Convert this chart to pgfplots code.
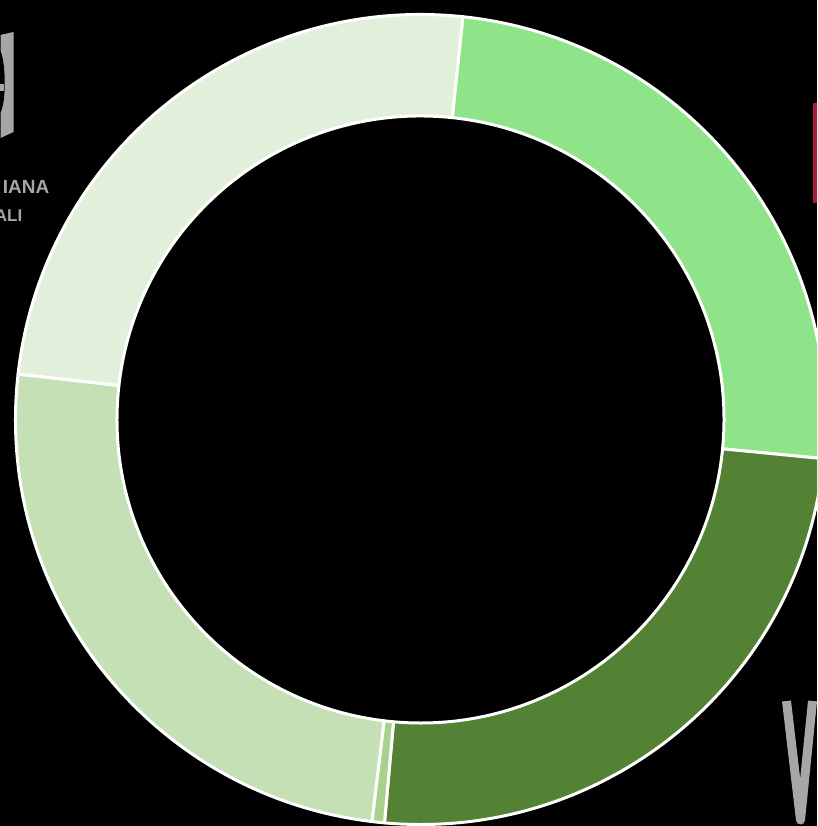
\documentclass[border=0pt]{standalone}
\usepackage{pgfplots}
\usepackage{pgfplotstable}
\pgfplotsset{compat=1.18}
\usepackage{fontspec}
\setmainfont{Liberation Sans}

\definecolor{s0}{HTML}{8FE48A}
\definecolor{s1}{HTML}{548235}
\definecolor{s2}{HTML}{A9D18E}
\definecolor{s3}{HTML}{C5E0B4}
\definecolor{s4}{HTML}{E2EFDA}
\definecolor{logogray}{HTML}{A6A6A6}
\definecolor{logored}{HTML}{A51D3B}

% slices, clockwise from the top
\pgfplotstableread{
slice value
0 25
1 25
2 0.5
3 25
4 25
}\slices

\begin{document}
\begin{tikzpicture}
\def\total{0}
\pgfplotsforeachungrouped \i in {0,...,4}{%
  \pgfplotstablegetelem{\i}{value}\of\slices
  \pgfmathsetmacro\total{\total+\pgfplotsretval}}
\def\angA{84}
\begin{axis}[
    hide axis,
    scale only axis,
    x=1pt, y=1pt,
    xmin=-420.5, xmax=396.5,
    ymin=-406.5, ymax=419.5,
    clip=true,
]
\fill[black] (rel axis cs:0,0) rectangle (rel axis cs:1,1);

% background bits of the slide
\fill[logogray] (-420,384.5) -- (-407,387.5) -- (-407,287.5) -- (-420,281.5) -- cycle;
\fill[black] (-421,370) .. controls (-414,360) and (-414,312) .. (-421,306) -- cycle;
\fill[logogray] (-421,335) rectangle (-417,328);
\node[logogray, anchor=base east, inner sep=0pt, font=\bfseries\fontsize{19}{19}\selectfont] at (-371,225.5) {IANA};
\node[logogray, anchor=base east, inner sep=0pt, font=\bfseries\fontsize{17}{17}\selectfont] at (-398,197.5) {ALI};
\fill[logored] (392,316.5) rectangle (397,216.5);
\draw[logogray, line width=9pt, line join=round] (366,-281.5) -- (380,-400.5) -- (392,-281.5);

% donut
\pgfplotsinvokeforeach{0,...,4}{%
  \pgfplotstablegetelem{#1}{value}\of\slices
  \pgfmathsetmacro\angB{\angA-\pgfplotsretval*360/\total}%
  \edef\drawslice{\noexpand\filldraw[fill=s#1, draw=white, line width=3pt, line join=round]
    (axis cs:0,0) ++(\angA:405pt) arc[start angle=\angA, end angle=\angB, radius=405pt]
    -- ++(\angB+180:101.5pt) arc[start angle=\angB, end angle=\angA, radius=303.5pt] -- cycle;}%
  \drawslice
  \global\let\angA\angB
}
\end{axis}
\pgfresetboundingbox
\useasboundingbox (current axis.south west) rectangle (current axis.north east);
\end{tikzpicture}
\end{document}
